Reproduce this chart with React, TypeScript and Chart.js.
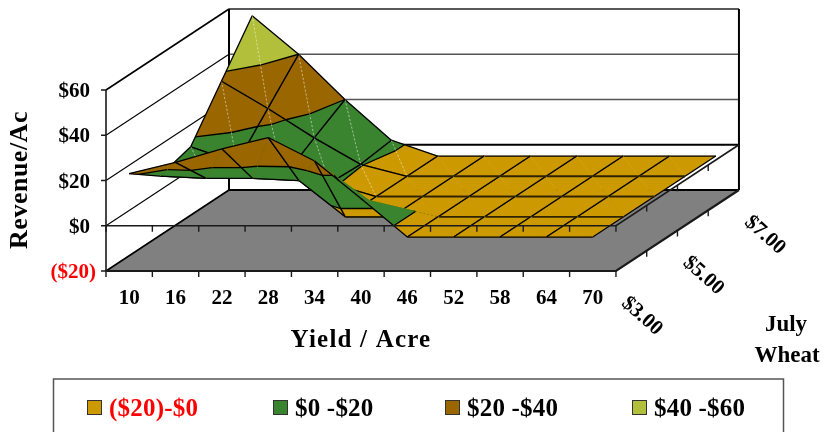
import React, { useEffect, useRef } from "react";
import { Chart, registerables } from "chart.js";

Chart.register(...registerables);

// Revenue per acre by yield (columns) and July wheat price (rows)
const yieldLabels = ["10", "16", "22", "28", "34", "40", "46", "52", "58", "64", "70"];
const priceTicks = ["$3.00", "$4.00", "$5.00", "$6.00", "$7.00"];
const revenueAt3 = [23, 28, 34, 39, 28.6, 12, -5, -5, -5, -5, -5];
const revenueAt4 = [13, 12, 12, 11, -5, -5, -5, -5, -5, -5, -5];
const revenueAt5 = [17, 10, 3.6, 1, -5, -5, -5, -5, -5, -5, -5];
const revenueAt6 = [37, 25, 12, 0.3, -5, -5, -5, -5, -5, -5, -5];
const revenueAt7 = [57, 40, 20, 2, -5, -5, -5, -5, -5, -5, -5];
const revenueRows = [revenueAt3, revenueAt4, revenueAt5, revenueAt6, revenueAt7];

const revenueTicks = [-20, 0, 20, 40, 60];
const revenueTickLabels = ["($20)", "$0", "$20", "$40", "$60"];
const bandEdges = [-20, 0, 20, 40, 60];
const bandLabels = ["($20)-$0", "$0 -$20", "$20 -$40", "$40 -$60"];
const bandColors = ["#CC9900", "#3A8430", "#996600", "#B2BF3A"];
// Cells whose triangulation runs along the opposite diagonal: [yield index, price index]
const flippedCells = [[4, 0], [5, 0]];

const FONT = '"Liberation Serif", serif';
const MESH = 1.3;

type P = { k: number; d: number; v: number };
type XY = { x: number; y: number };

// Oblique projection of (yield position, price position, revenue) onto the drawing plane
const project = (k: number, d: number, v: number): XY => ({
  x: 106 + 46.36 * (k + 0.5) + 30.75 * d,
  y: 271 - 20.25 * d - (v + 20) * 2.2625,
});
const projectP = (p: P) => project(p.k, p.d, p.v);

const mix = (a: P, b: P, t: number): P => ({
  k: a.k + (b.k - a.k) * t,
  d: a.d + (b.d - a.d) * t,
  v: a.v + (b.v - a.v) * t,
});

// Keep the part of a polygon on one side of a revenue level
function clipLevel(poly: P[], level: number, keepAbove: boolean): P[] {
  const out: P[] = [];
  const inside = (p: P) => (keepAbove ? p.v >= level : p.v <= level);
  poly.forEach((cur, i) => {
    const next = poly[(i + 1) % poly.length];
    if (inside(cur)) out.push(cur);
    if (inside(cur) !== inside(next)) out.push(mix(cur, next, (level - cur.v) / (next.v - cur.v)));
  });
  return out;
}

function contourSegment(tri: P[], level: number): P[] | null {
  const pts: P[] = [];
  tri.forEach((cur, i) => {
    const next = tri[(i + 1) % 3];
    if ((cur.v < level) !== (next.v < level)) pts.push(mix(cur, next, (level - cur.v) / (next.v - cur.v)));
  });
  return pts.length === 2 ? pts : null;
}

const lineSet = (points: XY[], color: string, width: number, extra: object = {}) => ({
  type: "scatter" as const,
  data: points,
  showLine: true,
  borderColor: color,
  borderWidth: width,
  pointRadius: 0,
  clip: false,
  tension: 0,
  ...extra,
});

const polySet = (points: XY[], fill: string, stroke = fill, width = 0.6) =>
  lineSet([...points, points[0]], stroke, width, { polyFill: fill });

function frameBehindSurface() {
  const sets: any[] = [];
  const top = 60;
  // Floor of the box at the lowest revenue level
  sets.push(polySet([project(-0.5, 0, -20), project(10.5, 0, -20), project(10.5, 4, -20), project(-0.5, 4, -20)], "#808080"));
  // Gridlines on the left and back walls
  revenueTicks.forEach((v) => {
    const dark = v <= 0;
    const edge = v === top;
    sets.push(lineSet([project(-0.5, 0, v), project(-0.5, 4, v)], "#000", edge || v === -20 ? 1.6 : 1.1));
    sets.push(lineSet([project(-0.5, 4, v), project(10.5, 4, v)], dark ? "#000" : edge ? "#222" : "#555", dark ? 2 : 1.5));
  });
  sets.push(lineSet([project(-0.5, 4, -20), project(-0.5, 4, top)], "#000", 2));
  sets.push(lineSet([project(10.5, 4, -20), project(10.5, 4, top)], "#000", 2));
  return sets;
}

function surfaceSets() {
  const sets: any[] = [];
  const lastK = yieldLabels.length - 2;
  const isFlipped = (k: number, d: number) => flippedCells.some(([a, b]) => a === k && b === d);

  // Paint from the far strip to the near one; the nearest strip runs from low yield to high
  for (let d = priceTicks.length - 2; d >= 0; d--) {
    const cells: number[] = [];
    for (let k = lastK; k >= 0; k--) cells.push(k);
    if (d === 0) cells.reverse();
    cells.forEach((k) => {
      const a: P = { k, d, v: revenueRows[d][k] };
      const b: P = { k: k + 1, d, v: revenueRows[d][k + 1] };
      const c: P = { k: k + 1, d: d + 1, v: revenueRows[d + 1][k + 1] };
      const e: P = { k, d: d + 1, v: revenueRows[d + 1][k] };
      const flipped = isFlipped(k, d);
      const flat = [a, b, c, e].every((p) => p.v === a.v);
      // Each triangle lists its corners, then the mesh edges it owns
      const pieces: { tri: P[]; edges: P[][] }[] = flipped
        ? [
            { tri: [a, c, e], edges: [[c, e], [e, a]] },
            { tri: [a, b, c], edges: [[a, b], [b, c]] },
          ]
        : [
            { tri: [e, b, c], edges: [[b, c], [c, e]] },
            { tri: [a, b, e], edges: [[a, b], [e, a]] },
          ];
      const faint = d === 0 ? "rgba(110,110,0,0.55)" : "rgba(255,255,255,0.5)";
      pieces.forEach(({ tri, edges }) => {
        bandColors.forEach((color, i) => {
          let poly = clipLevel(tri, bandEdges[i], true);
          if (poly.length) poly = clipLevel(poly, bandEdges[i + 1], false);
          if (poly.length >= 3) sets.push(polySet(poly.map(projectP), color));
        });
        if (!flat) {
          const diag = flipped ? [a, c] : [e, b];
          sets.push(lineSet(diag.map(projectP), faint, 0.8, { borderDash: [2, 2] }));
        }
        bandEdges.slice(1, -1).forEach((level) => {
          const seg = contourSegment(tri, level);
          if (seg) sets.push(lineSet(seg.map(projectP), "#000", MESH));
        });
        edges.forEach((edge) => {
          // Lines of constant price read heavier across the level part of the surface
          const inner = flat && edge[0].d === edge[1].d && edge[0].d > 0 && edge[0].d < 4;
          sets.push(lineSet(edge.map(projectP), inner ? "#2e2300" : "#000", inner ? 1.8 : MESH));
        });
      });
    });
  }
  return sets;
}

function frameOverSurface() {
  const gap = { x: NaN, y: NaN };
  const sets: any[] = [];
  const nK = yieldLabels.length;
  const nD = priceTicks.length;
  [-20, 0].forEach((v) => {
    const weight = v === -20 ? 2.2 : 1.6;
    sets.push(lineSet([project(-0.5, 0, v), project(nK - 0.5, 0, v), project(nK - 0.5, nD - 1, v)], "#1a1a1a", weight));
    const marks: XY[] = [];
    for (let i = 0; i <= nK; i++) {
      const p = project(i - 0.5, 0, v);
      marks.push(p, { x: p.x, y: p.y + 6 }, gap);
    }
    for (let i = 1; i < nD - 1; i++) {
      const p = project(nK - 0.5, i, v);
      marks.push(p, { x: p.x, y: p.y + 6 }, gap);
    }
    sets.push(lineSet(marks, "#1a1a1a", 1.4));
  });
  sets.push(lineSet([project(-0.5, 0, -20), project(-0.5, 0, 60)], "#1a1a1a", 1.6));
  const marks: XY[] = [];
  revenueTicks.forEach((v) => {
    const p = project(-0.5, 0, v);
    marks.push(p, { x: p.x - 5, y: p.y }, gap);
  });
  sets.push(lineSet(marks, "#1a1a1a", 1.4));
  return sets;
}

const polygonFill = {
  id: "polygonFill",
  beforeDatasetDraw(chart: any, args: any) {
    const ds = chart.data.datasets[args.index];
    if (!ds.polyFill) return;
    const ctx = chart.ctx;
    ctx.save();
    ctx.beginPath();
    args.meta.data.forEach((pt: any, i: number) => (i ? ctx.lineTo(pt.x, pt.y) : ctx.moveTo(pt.x, pt.y)));
    ctx.closePath();
    ctx.fillStyle = ds.polyFill;
    ctx.fill();
    ctx.restore();
  },
};

const chartText = {
  id: "chartText",
  afterDatasetsDraw(chart: any) {
    const ctx = chart.ctx;
    const px = (p: XY) => ({ x: chart.scales.x.getPixelForValue(p.x), y: chart.scales.y.getPixelForValue(p.y) });
    ctx.save();
    ctx.textBaseline = "alphabetic";
    const text = (s: string, x: number, y: number, size: number, align = "center", color = "#000", spacing = "0px") => {
      ctx.font = `bold ${size}px ${FONT}`;
      (ctx as any).letterSpacing = spacing;
      ctx.textAlign = align;
      ctx.fillStyle = color;
      ctx.fillText(s, x, y);
    };

    yieldLabels.forEach((label, i) => {
      const p = px(project(i, 0, -20));
      text(label, p.x, 304, 21);
    });
    revenueTicks.forEach((v, i) => {
      const p = px(project(-0.5, 0, v));
      const negative = v < 0;
      text(revenueTickLabels[i], negative ? 96 : 90, p.y + 7, 21, "right", negative ? "#FF0000" : "#000");
    });
    [0, 2, 4].forEach((d) => {
      const p = px(project(10.5, d, -20));
      ctx.save();
      ctx.translate(p.x + 27, p.y + 44);
      ctx.rotate((42 * Math.PI) / 180);
      text(priceTicks[d], 0, 7, 21);
      ctx.restore();
    });

    text("Yield / Acre", 361, 347, 25, "center", "#000", "1.2px");
    text("July", 786, 331, 23);
    text("Wheat", 787, 362, 23);
    ctx.save();
    ctx.translate(27, 180);
    ctx.rotate(-Math.PI / 2);
    text("Revenue/Ac", 0, 0, 26, "center", "#000", "0.5px");
    ctx.restore();

    // Band key along the bottom edge
    ctx.strokeStyle = "#555";
    ctx.lineWidth = 1.5;
    ctx.strokeRect(53.5, 379, 730, 70);
    const swatchX = [87, 273, 445, 632];
    bandLabels.forEach((label, i) => {
      ctx.fillStyle = bandColors[i];
      ctx.fillRect(swatchX[i], 401, 14, 14);
      ctx.strokeStyle = "#333";
      ctx.lineWidth = 1;
      ctx.strokeRect(swatchX[i] + 0.5, 400.5, 14, 14);
      text(label, swatchX[i] + 22, 416, 25, "left", i === 0 ? "#FF0000" : "#000", "0.2px");
    });
    ctx.restore();
  },
};

export default function App() {
  const ref = useRef<HTMLCanvasElement>(null);
  useEffect(() => {
    // Chart.js draws the first dataset last, so the paint order is reversed here
    const datasets = [...frameBehindSurface(), ...surfaceSets(), ...frameOverSurface()].reverse();
    const chart = new Chart(ref.current!, {
      type: "scatter",
      data: { datasets },
      plugins: [polygonFill, chartText],
      options: {
        animation: false,
        responsive: false,
        events: [],
        layout: { padding: 0 },
        plugins: { legend: { display: false }, tooltip: { enabled: false } },
        scales: {
          x: { type: "linear", display: false, min: 0, max: 826 },
          y: { type: "linear", display: false, min: 0, max: 432, reverse: true },
        },
      },
    } as any);
    return () => chart.destroy();
  }, []);
  return (
    <div style={{ position: "absolute", left: 0, top: 0, width: 826, height: 432, overflow: "hidden", background: "#fff" }}>
      <canvas ref={ref} width={826} height={432} style={{ display: "block" }} />
    </div>
  );
}
